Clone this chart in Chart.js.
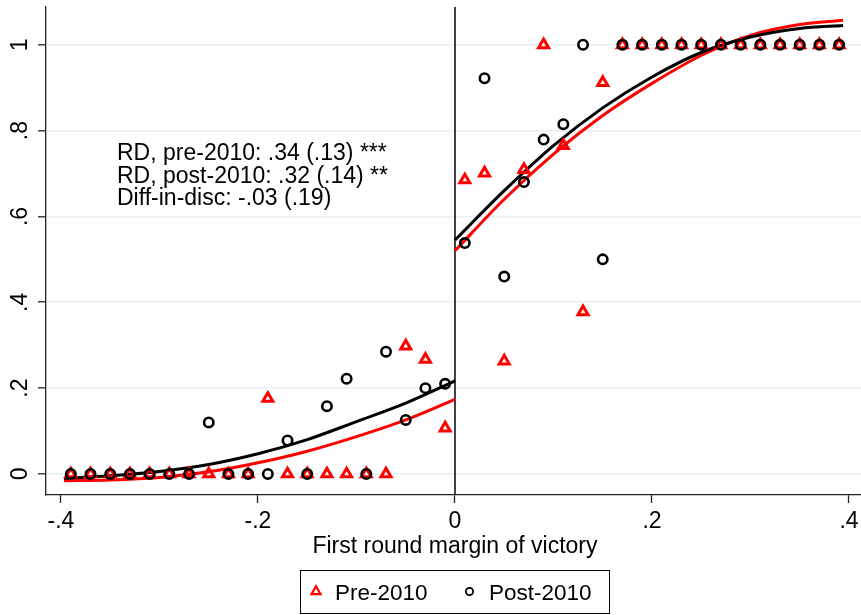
<!DOCTYPE html>
<html>
<head>
<meta charset="utf-8">
<title>RD by first round margin</title>
<script src="https://cdn.jsdelivr.net/npm/chart.js@4/dist/chart.umd.min.js"></script>
<style>
  html, body { margin: 0; padding: 0; background: #fff; }
  #wrap { width: 861px; height: 615px; }
</style>
</head>
<body>
<div id="wrap"><canvas id="rdChart" width="861" height="615"></canvas></div>
<script>
'use strict';

// Bin centres of the first round margin
var binX = [
    -0.39, -0.37, -0.35, -0.33, -0.31, -0.29, -0.27, -0.25, -0.23, -0.21,
    -0.19, -0.17, -0.15, -0.13, -0.11, -0.09, -0.07, -0.05, -0.03, -0.01,
     0.01,  0.03,  0.05,  0.07,  0.09,  0.11,  0.13,  0.15,  0.17,  0.19,
     0.21,  0.23,  0.25,  0.27,  0.29,  0.31,  0.33,  0.35,  0.37,  0.39
];

// Binned means, pre-2010 elections
var preMeans = [
    0, 0, 0, 0, 0, 0, 0, 0, 0, 0,
    0.176, 0, 0, 0, 0, 0, 0, 0.298, 0.267, 0.107,
    0.685, 0.701, 0.263, 0.709, 1, 0.765, 0.378, 0.912, 1, 1,
    1, 1, 1, 1, 1, 1, 1, 1, 1, 1
];

// Binned means, post-2010 elections
var postMeans = [
    0, 0, 0, 0, 0, 0, 0, 0.12, 0, 0,
    0, 0.078, 0, 0.158, 0.222, 0, 0.285, 0.126, 0.2, 0.21,
    0.538, 0.922, 0.46, 0.68, 0.779, 0.815, 1, 0.5, 1, 1,
    1, 1, 1, 1, 1, 1, 1, 1, 1, 1
];

// Fitted curves, each side of the cutoff
var fitXLeft     = [-0.397, -0.35, -0.3, -0.25, -0.2, -0.15, -0.1, -0.05, 0];
var preFitLeft   = [-0.016, -0.014, -0.008, 0.005, 0.026, 0.053, 0.087, 0.126, 0.174];
var postFitLeft  = [-0.010, -0.004, 0.006, 0.022, 0.047, 0.080, 0.122, 0.165, 0.217];
var fitXRight    = [0, 0.05, 0.1, 0.15, 0.2, 0.25, 0.3, 0.35, 0.394];
var preFitRight  = [0.520, 0.640, 0.745, 0.835, 0.910, 0.975, 1.022, 1.047, 1.057];
var postFitRight = [0.545, 0.660, 0.765, 0.853, 0.925, 0.982, 1.018, 1.038, 1.045];

// Axes
var xTicks      = [-0.4, -0.2, 0, 0.2, 0.4];
var xTickLabels = ['-.4', '-.2', '0', '.2', '.4'];
var yTicks      = [0, 0.2, 0.4, 0.6, 0.8, 1];
var yTickLabels = ['0', '.2', '.4', '.6', '.8', '1'];

var notes = [
    'RD, pre-2010: .34 (.13) ***',
    'RD, post-2010: .32 (.14) **',
    'Diff-in-disc: -.03 (.19)'
];
var xTitle = 'First round margin of victory';
var legendLabels = ['Pre-2010', 'Post-2010'];

var RED   = '#ff0000';
var BLACK = '#000000';
var FAMILY = '"Liberation Sans", Arial, Helvetica, sans-serif';

function toPoints(xs, ys) {
    return xs.map(function (x, i) { return { x: x, y: ys[i] }; });
}

function fitLine(xs, ys, color) {
    return {
        type: 'line',
        data: toPoints(xs, ys),
        borderColor: color,
        borderWidth: 3,
        pointRadius: 0,
        showLine: true,
        fill: false,
        cubicInterpolationMode: 'monotone',
        order: 3
    };
}

/**
 * Draw a hollow marker (legend only)
 */
function drawMarker(ctx, style, x, y, r, width, color) {
    ctx.save();
    ctx.strokeStyle = color;
    ctx.lineWidth = width;
    ctx.beginPath();
    if (style === 'triangle') {
        for (var k = 0; k < 3; k++) {
            var a = k * 2 * Math.PI / 3;
            var px = x + Math.sin(a) * r;
            var py = y - Math.cos(a) * r;
            if (k === 0) { ctx.moveTo(px, py); } else { ctx.lineTo(px, py); }
        }
        ctx.closePath();
    } else {
        ctx.arc(x, y, r, 0, Math.PI * 2);
    }
    ctx.stroke();
    ctx.restore();
}

// Cutoff line, tick labels, notes and the boxed legend
var decorations = {
    id: 'decorations',
    beforeDatasetsDraw: function (chart) {
        var ctx  = chart.ctx;
        var area = chart.chartArea;
        var x0   = chart.scales.x.getPixelForValue(0);
        ctx.save();
        ctx.strokeStyle = '#111';
        ctx.lineWidth = 1.6;
        ctx.beginPath();
        ctx.moveTo(x0, area.top);
        ctx.lineTo(x0, area.bottom);
        ctx.stroke();
        ctx.restore();
    },
    afterDraw: function (chart) {
        var ctx  = chart.ctx;
        var xs   = chart.scales.x;
        var ys   = chart.scales.y;

        ctx.save();
        ctx.font = '23px ' + FAMILY;
        ctx.fillStyle = '#000';

        // y tick labels, rotated
        ctx.textAlign = 'center';
        ctx.textBaseline = 'alphabetic';
        yTicks.forEach(function (v, i) {
            ctx.save();
            ctx.translate(27, ys.getPixelForValue(v));
            ctx.rotate(-Math.PI / 2);
            ctx.fillText(yTickLabels[i], 0, 0);
            ctx.restore();
        });

        // x tick labels and title
        xTicks.forEach(function (v, i) {
            ctx.fillText(xTickLabels[i], xs.getPixelForValue(v), 528);
        });
        ctx.fillText(xTitle, xs.getPixelForValue(0), 553);

        // estimates
        ctx.textAlign = 'left';
        notes.forEach(function (line, i) {
            ctx.fillText(line, 117, 160 + i * 22.5);
        });

        // legend
        ctx.font = '22.5px ' + FAMILY;
        ctx.strokeStyle = '#000';
        ctx.lineWidth = 1;
        ctx.strokeRect(300.5, 570.5, 309, 43);
        drawMarker(ctx, 'triangle', 316, 591.5, 5.2, 2.2, RED);
        drawMarker(ctx, 'circle', 469.5, 591.5, 3.6, 1.8, BLACK);
        ctx.fillText(legendLabels[0], 335, 600);
        ctx.fillText(legendLabels[1], 489, 600);
        ctx.restore();
    }
};

var chart = new Chart(document.getElementById('rdChart'), {
    type: 'scatter',
    data: {
        datasets: [
            {
                label: legendLabels[1],
                data: toPoints(binX, postMeans),
                pointStyle: 'circle',
                pointRadius: 4.7,
                pointBorderWidth: 2.6,
                pointBorderColor: BLACK,
                pointBackgroundColor: 'rgba(0,0,0,0)',
                order: 0
            },
            {
                label: legendLabels[0],
                data: toPoints(binX, preMeans),
                pointStyle: 'triangle',
                pointRadius: 5.8,
                pointBorderWidth: 3,
                pointBorderColor: RED,
                pointBackgroundColor: 'rgba(0,0,0,0)',
                order: 1
            },
            fitLine(fitXLeft, postFitLeft, BLACK),
            fitLine(fitXRight, postFitRight, BLACK),
            fitLine(fitXLeft, preFitLeft, RED),
            fitLine(fitXRight, preFitRight, RED)
        ]
    },
    options: {
        responsive: false,
        animation: false,
        devicePixelRatio: 1,
        events: [],
        layout: { autoPadding: false, padding: { left: 38, right: 0, top: 7, bottom: 112 } },
        plugins: {
            legend: { display: false },
            tooltip: { enabled: false }
        },
        scales: {
            x: {
                type: 'linear',
                min: -0.4152,
                max: 0.4122,
                afterBuildTicks: function (scale) {
                    scale.ticks = xTicks.map(function (v) { return { value: v }; });
                },
                ticks: { display: false },
                grid: {
                    drawOnChartArea: false,
                    drawTicks: true,
                    tickLength: 8,
                    tickColor: '#222',
                    tickWidth: 1.3
                },
                border: { display: true, color: '#222', width: 1.3 }
            },
            y: {
                type: 'linear',
                min: -0.049,
                max: 1.088,
                afterBuildTicks: function (scale) {
                    scale.ticks = yTicks.map(function (v) { return { value: v }; });
                },
                ticks: { display: false },
                grid: {
                    color: '#e9f0f4',
                    lineWidth: 1.6,
                    drawTicks: true,
                    tickLength: 8,
                    tickColor: '#222',
                    tickWidth: 1.3
                },
                border: { display: true, color: '#222', width: 1.3 }
            }
        }
    },
    plugins: [decorations]
});
</script>
</body>
</html>
